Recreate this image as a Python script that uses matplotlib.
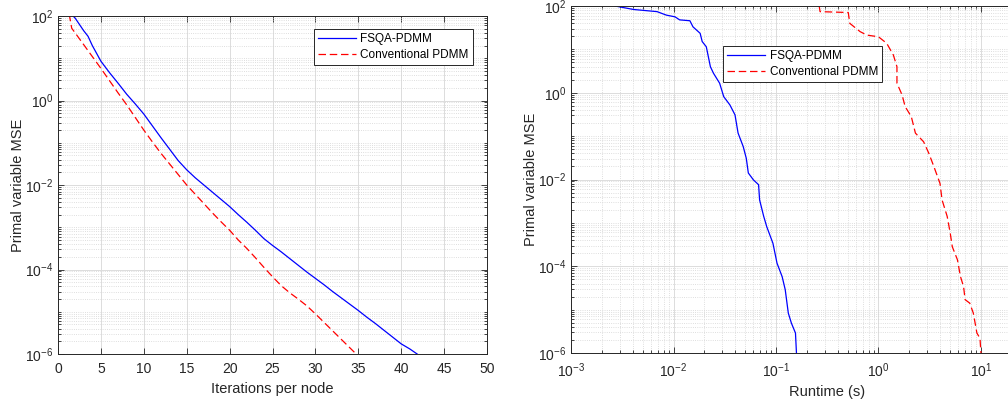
import matplotlib
matplotlib.use('Agg')
import matplotlib.pyplot as plt
import numpy as np
from matplotlib.ticker import LogLocator, FixedLocator, NullFormatter

plt.rcParams['font.family'] = ['Liberation Sans', 'DejaVu Sans']
plt.rcParams['axes.unicode_minus'] = True

# ── Data ──────────────────────────────────────────────────────────────────────
# Left panel: MSE vs iterations per node (values as log10 of MSE)
fsqa_iter = [1.5, 2, 3, 3.5, 4, 5, 6, 7, 8, 9, 10, 11, 12, 13, 14, 15, 16, 17,
             18, 19, 20, 21, 22, 23, 24, 25, 26, 27, 28, 29, 30, 31, 32, 33, 34,
             35, 36, 37, 38, 39, 40, 41, 42]
fsqa_iter_log = [2.05, 1.95, 1.65, 1.52, 1.30, 0.93, 0.66, 0.41, 0.15, -0.08,
                 -0.32, -0.60, -0.88, -1.15, -1.42, -1.64, -1.83, -2.00, -2.17,
                 -2.34, -2.51, -2.70, -2.88, -3.07, -3.27, -3.43, -3.58, -3.74,
                 -3.90, -4.06, -4.21, -4.36, -4.52, -4.67, -4.82, -4.97, -5.13,
                 -5.28, -5.44, -5.60, -5.76, -5.88, -6.02]

conv_iter = [1.3, 1.6, 2, 3, 4, 5, 6, 7, 8, 9, 10, 11, 12, 13, 14, 15, 16, 17,
             18, 19, 20, 21, 22, 23, 24, 25, 26, 27, 28, 29, 30, 31, 32, 33, 34, 35]
conv_iter_log = [2.05, 1.71, 1.60, 1.32, 1.04, 0.76, 0.47, 0.18, -0.10, -0.40,
                 -0.70, -0.98, -1.25, -1.50, -1.75, -2.00, -2.22, -2.44, -2.66,
                 -2.87, -3.07, -3.30, -3.50, -3.72, -3.95, -4.17, -4.38, -4.55,
                 -4.70, -4.86, -5.05, -5.25, -5.45, -5.65, -5.85, -6.05]

# Right panel: MSE vs runtime (both as log10)
fsqa_time_log = [-2.57, -2.39, -2.16, -2.07, -1.985, -1.94, -1.84, -1.81, -1.74,
                 -1.72, -1.68, -1.64, -1.61, -1.55, -1.51, -1.45, -1.40, -1.37,
                 -1.32, -1.29, -1.27, -1.22, -1.17, -1.16, -1.12, -1.09, -1.03,
                 -0.99, -0.94, -0.91, -0.88, -0.85, -0.81, -0.80]
fsqa_time_mse_log = [2.0, 1.92, 1.87, 1.79, 1.75, 1.68, 1.66, 1.52, 1.37, 1.18,
                     1.06, 0.60, 0.45, 0.22, -0.09, -0.28, -0.51, -0.93, -1.24,
                     -1.51, -1.85, -2.01, -2.12, -2.47, -2.85, -3.09, -3.47,
                     -3.93, -4.24, -4.54, -5.08, -5.31, -5.54, -6.02]

conv_time_log = [-0.58, -0.57, -0.295, -0.28, -0.18, -0.115, 0.0, 0.08, 0.145,
                 0.18, 0.18, 0.23, 0.26, 0.32, 0.36, 0.44, 0.49, 0.54, 0.60,
                 0.62, 0.67, 0.70, 0.72, 0.77, 0.80, 0.83, 0.845, 0.89, 0.925,
                 0.96, 0.99, 1.0]
conv_time_mse_log = [2.02, 1.87, 1.85, 1.60, 1.41, 1.33, 1.29, 1.14, 0.87, 0.60,
                     0.22, -0.05, -0.32, -0.55, -0.93, -1.13, -1.39, -1.70,
                     -2.09, -2.47, -2.85, -3.24, -3.55, -3.85, -4.24, -4.47,
                     -4.77, -4.85, -5.08, -5.54, -5.66, -6.02]

LABELS = ['FSQA-PDMM', 'Conventional PDMM']
BLUE = '#0000FF'
RED = '#FF0000'
TXT = '#262626'


def style_axes(ax, logx=False):
    ax.set_yscale('log')
    ax.set_ylim(1e-6, 1e2)
    ax.yaxis.set_major_locator(FixedLocator([1e-6, 1e-4, 1e-2, 1e0, 1e2]))
    ax.yaxis.set_minor_locator(LogLocator(base=10, subs=np.arange(1, 10), numticks=20))
    ax.yaxis.set_minor_formatter(NullFormatter())
    if logx:
        ax.xaxis.set_minor_locator(LogLocator(base=10, subs=np.arange(2, 10), numticks=20))
        ax.xaxis.set_minor_formatter(NullFormatter())
    ax.grid(which='major', color='#dcdcdc', linestyle='-', linewidth=0.7)
    ax.grid(which='minor', axis='y', color='#d4d4d4', linestyle=':', linewidth=0.6)
    if logx:
        ax.grid(which='minor', axis='x', color='#d4d4d4', linestyle=':', linewidth=0.6)
    ax.set_axisbelow(True)
    ax.tick_params(which='both', direction='in', top=True, right=True,
                   colors=TXT, labelsize=10, width=0.6)
    ax.tick_params(which='major', length=4)
    ax.tick_params(which='minor', length=2)
    ax.tick_params(axis='x', which='major', pad=6)
    for s in ax.spines.values():
        s.set_color(TXT)
        s.set_linewidth(0.7)


def add_legend(ax, anchor, loc):
    leg = ax.legend(loc=loc, bbox_to_anchor=anchor, borderaxespad=0, fontsize=8.5,
                    fancybox=False, edgecolor=TXT, framealpha=1, handlelength=3.2,
                    borderpad=0.35, labelspacing=0.3, handletextpad=0.4)
    leg.get_frame().set_linewidth(0.7)
    return leg


fig = plt.figure(figsize=(10.08, 4.04), dpi=100)

# ── Left panel ───────────────────────────────────────────────────────────────
ax1 = fig.add_axes([58 / 1008, 50 / 404, 429 / 1008, 338 / 404])
ax1.plot(fsqa_iter, 10 ** np.array(fsqa_iter_log), color=BLUE, lw=0.9, label=LABELS[0])
ax1.plot(conv_iter, 10 ** np.array(conv_iter_log), color=RED, lw=0.9,
         linestyle=(0, (6, 3)), label=LABELS[1])
style_axes(ax1)
ax1.set_xlim(0, 50)
ax1.set_xticks(np.arange(0, 51, 5))
ax1.set_xlabel('Iterations per node', fontsize=10.5, color=TXT, labelpad=4)
ax1.set_ylabel('Primal variable MSE', fontsize=10.5, color=TXT, labelpad=0)
add_legend(ax1, (1 - 14 / 429, 1 - 13 / 338), 'upper right')

# ── Right panel ──────────────────────────────────────────────────────────────
ax2 = fig.add_axes([571 / 1008, 51 / 404, 512.5 / 1008, 347 / 404])
ax2.plot(10 ** np.array(fsqa_time_log), 10 ** np.array(fsqa_time_mse_log),
         color=BLUE, lw=0.9, label=LABELS[0])
ax2.plot(10 ** np.array(conv_time_log), 10 ** np.array(conv_time_mse_log),
         color=RED, lw=0.9, linestyle=(0, (6, 3)), label=LABELS[1])
ax2.set_xscale('log')
ax2.set_xlim(1e-3, 1e2)
ax2.xaxis.set_major_locator(FixedLocator([1e-3, 1e-2, 1e-1, 1e0, 1e1]))
style_axes(ax2, logx=True)
ax2.set_xlabel('Runtime (s)', fontsize=10.5, color=TXT, labelpad=4)
ax2.set_ylabel('Primal variable MSE', fontsize=10.5, color=TXT, labelpad=0)
add_legend(ax2, ((723 - 571) / 512.5, 1 - 40 / 347), 'upper left')

fig.savefig('out.png', dpi=100)
